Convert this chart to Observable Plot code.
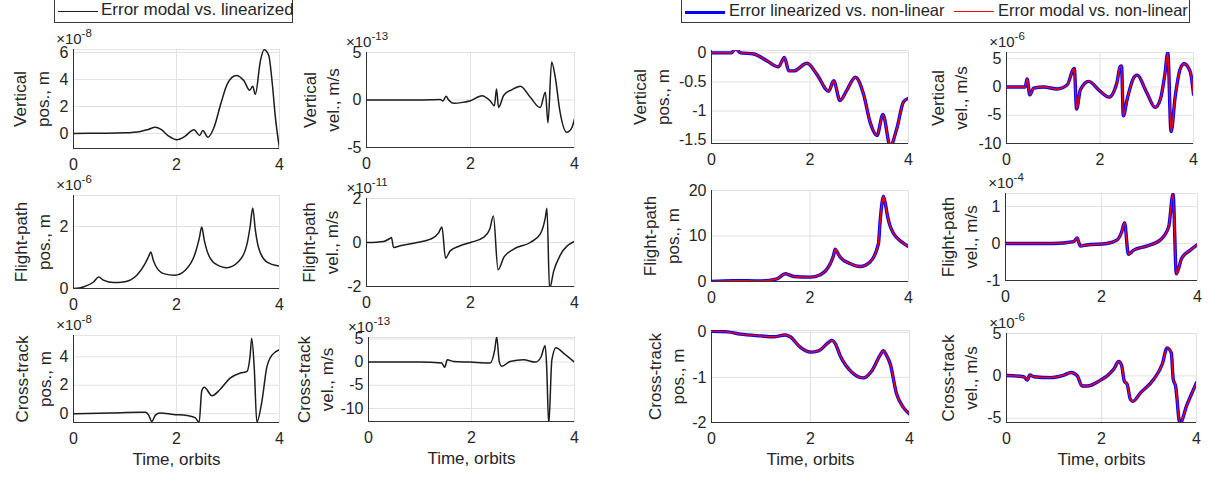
<!DOCTYPE html>
<html>
<head>
<meta charset="utf-8">
<script src="https://cdn.jsdelivr.net/npm/d3@7"></script>
<script src="https://cdn.jsdelivr.net/npm/@observablehq/plot@0.6"></script>
<style>
  html, body { margin: 0; padding: 0; background: #fff; }
  #fig {
    position: relative; width: 1208px; height: 477px; overflow: hidden;
    font-family: "Liberation Sans", Arial, Helvetica, sans-serif; color: #262626;
  }
  .legend {
    position: absolute; box-sizing: border-box; background: #fff;
    border: 1px solid #3a3a3a; color: #262626;
  }
  .legend .swatch { position: absolute; height: 0; }
  .legend .lbl { position: absolute; top: 1px; white-space: nowrap; line-height: 20px; }
</style>
</head>
<body>
<div id="fig"></div>
<script>
// ---- time axis -----------------------------------------------------------
const xTicks = [0, 2, 4];
const timeLabel = "Time, orbits";

// ---- error modal vs. linearized (values in units of the ×10^n factor) ----
// [time in orbits, error]
const vertPosModal = [
  [0,0],[0.5,0.02],[1.0,0.05],[1.3,0.15],[1.45,0.3],[1.59,0.47],[1.7,0.3],[1.85,-0.2],
  [2.01,-0.47],[2.15,-0.25],[2.34,0.27],[2.45,-0.15],[2.51,0.22],[2.61,-0.27],[2.73,0.47],
  [2.86,2.2],[2.99,3.7],[3.16,4.3],[3.31,3.9],[3.42,3.2],[3.48,3.5],[3.53,2.9],[3.63,5.4],
  [3.70,6.2],[3.79,5.8],[3.86,3.7],[3.92,1.2],[4.0,-1.1]
];
const vertVelModal = [
  [0,0],[1.0,0],[1.42,0.05],[1.47,-0.1],[1.53,0.39],[1.58,0.0],[1.68,-0.35],[1.85,-0.25],
  [2.0,-0.07],[2.22,0.46],[2.38,-0.1],[2.46,-0.6],[2.50,1.17],[2.54,-0.78],[2.64,0.5],
  [2.8,1.1],[2.96,1.45],[3.15,0.28],[3.34,-0.8],[3.44,0.82],[3.49,-2.4],[3.56,4.0],
  [3.63,2.4],[3.72,-1.2],[3.85,-3.4],[3.95,-2.9],[4.0,-2.0]
];
const fpPosModal = [
  [0,0],[0.19,0.05],[0.39,0.21],[0.49,0.37],[0.58,0.27],[0.78,0.19],[0.97,0.21],[1.23,0.43],
  [1.39,0.8],[1.46,1.04],[1.5,1.18],[1.55,0.91],[1.59,0.75],[1.75,0.48],[1.97,0.43],
  [2.17,0.59],[2.36,1.12],[2.44,1.6],[2.49,1.98],[2.54,1.55],[2.59,1.23],[2.75,0.8],
  [2.98,0.67],[3.2,0.86],[3.37,1.44],[3.43,2.0],[3.48,2.6],[3.53,1.9],[3.59,1.34],
  [3.75,0.86],[4.0,0.72]
];
const fpVelModal = [
  [0,0],[0.33,0.05],[0.46,0.2],[0.48,0.23],[0.52,-0.23],[0.65,-0.15],[0.97,0],[1.23,0.15],
  [1.39,0.45],[1.45,0.71],[1.52,-0.71],[1.61,-0.38],[1.8,-0.15],[2.0,0],[2.25,0.23],
  [2.37,0.6],[2.44,1.2],[2.53,-1.24],[2.64,-0.68],[2.83,-0.3],[3.15,0],[3.34,0.38],
  [3.44,1.14],[3.47,1.56],[3.52,-2.1],[3.6,-1.3],[3.72,-0.6],[4.0,0.05]
];
const ctPosModal = [
  [0,0],[0.7,0.05],[1.3,0.1],[1.4,0.1],[1.46,-0.1],[1.52,-0.55],[1.59,-0.1],[1.68,0.05],
  [1.94,-0.05],[2.2,-0.12],[2.36,-0.28],[2.44,-0.6],[2.49,1.6],[2.54,1.86],[2.69,1.26],
  [2.85,1.72],[3.04,2.5],[3.24,2.86],[3.37,2.98],[3.43,4.1],[3.46,5.3],[3.51,3.2],
  [3.56,-0.6],[3.66,0.9],[3.75,3.2],[3.85,4.1],[4,4.5]
];
const ctVelModal = [
  [0,0],[1.0,0],[1.42,-0.2],[1.48,-1.1],[1.53,0.5],[1.65,0.15],[1.97,0],[2.36,-0.2],
  [2.45,2.6],[2.49,5.4],[2.54,0],[2.59,-0.9],[2.75,0.15],[3.01,0.5],[3.24,0],[3.35,1.1],
  [3.43,3.6],[3.46,-1.1],[3.5,-13.5],[3.56,0.4],[3.64,3.1],[3.79,1.9],[4,0]
];

// ---- errors against the non-linear solution -------------------------------
// linearized and modal errors coincide to within the line width
const vertPosNonlin = [
  [0,0],[0.4,0],[0.49,0.07],[0.59,0.0],[0.86,-0.02],[1.13,-0.14],[1.36,-0.24],[1.48,-0.08],
  [1.57,-0.31],[1.67,-0.31],[1.94,-0.18],[2.14,-0.37],[2.38,-0.66],[2.48,-0.48],[2.61,-0.82],
  [2.75,-0.64],[2.92,-0.42],[3.09,-0.72],[3.22,-1.19],[3.36,-1.42],[3.48,-1.06],[3.63,-1.6],
  [3.76,-1.31],[3.9,-0.84],[4.0,-0.78]
];
const vertVelNonlin = [
  [0,0],[0.4,0],[0.44,1.4],[0.5,-1.4],[0.58,-0.2],[0.8,0],[1.08,-0.35],[1.3,0.4],[1.42,3.0],
  [1.45,3.3],[1.5,-3.9],[1.58,-0.5],[1.76,1.0],[2.0,-0.75],[2.19,-1.8],[2.36,0.7],[2.43,3.6],
  [2.46,3.7],[2.5,-5.1],[2.58,-2.2],[2.72,1.6],[2.79,2.1],[3.0,-1.0],[3.18,-3.6],[3.29,-2.2],
  [3.39,2.4],[3.45,6.1],[3.52,-7.9],[3.61,-1.6],[3.72,3.3],[3.8,4.1],[3.93,2.7],[4.0,-1.3]
];
const fpPosNonlin = [
  [0,0],[0.45,0.2],[1.0,0.1],[1.33,0.6],[1.5,1.7],[1.67,1.1],[2.0,0.96],[2.21,1.5],[2.41,3.9],
  [2.48,5.8],[2.51,7.1],[2.55,6.5],[2.61,5.4],[2.82,3.9],[3.02,3.3],[3.22,4.3],[3.39,8.3],
  [3.42,12.7],[3.46,17.1],[3.49,18.75],[3.53,17.1],[3.57,14.6],[3.62,12.4],[3.7,10.5],
  [3.86,8.7],[4,7.7]
];
const fpVelNonlin = [
  [0,0],[1.0,0],[1.42,0.05],[1.49,0.15],[1.56,-0.07],[1.69,-0.04],[2.11,0],[2.32,0.09],
  [2.42,0.31],[2.48,0.56],[2.56,-0.29],[2.67,-0.18],[2.94,-0.07],[3.22,0.09],[3.4,0.45],
  [3.49,1.34],[3.56,-0.82],[3.67,-0.4],[3.85,-0.18],[4,-0.03]
];
const ctPosNonlin = [
  [0,0.02],[0.32,0.01],[0.58,-0.04],[0.99,-0.08],[1.26,-0.1],[1.49,-0.06],[1.59,-0.1],
  [1.79,-0.33],[2.0,-0.44],[2.16,-0.41],[2.37,-0.22],[2.43,-0.18],[2.5,-0.25],[2.6,-0.52],
  [2.84,-0.89],[3.07,-1.01],[3.24,-0.85],[3.41,-0.5],[3.47,-0.41],[3.53,-0.5],[3.61,-0.7],
  [3.74,-1.37],[3.88,-1.67],[4,-1.81]
];
const ctVelNonlin = [
  [0,0.05],[0.36,-0.1],[0.44,-0.5],[0.49,0.1],[0.58,-0.1],[0.93,-0.2],[1.21,0.1],[1.36,0.4],
  [1.49,0],[1.59,-1.2],[1.7,-1.2],[1.98,-0.5],[2.12,0],[2.26,0.8],[2.36,1.7],[2.42,1.3],
  [2.48,-0.6],[2.54,-1.0],[2.61,-2.8],[2.66,-3.0],[2.82,-2.0],[3.1,-0.4],[3.28,1.4],
  [3.38,3.3],[3.47,2.7],[3.51,-0.4],[3.56,-1.2],[3.65,-5.6],[3.8,-3.4],[4,-0.8]
];

// ---- legend entries --------------------------------------------------------
const legendModalLin = "Error modal vs. linearized";
const legendLinNonlin = "Error linearized vs. non-linear";
const legendModalNonlin = "Error modal vs. non-linear";

// ---- subplot layout --------------------------------------------------------
// box: [left, right, top, bottom] of the axes area on the page
const panels = [
  {data: vertPosModal, nl: false, box: [73, 279, 49, 148], y: [-1.11, 6.22], ticks: [0, 2, 4, 6], exp: 8, label: ["Vertical", "pos., m"], off: 41.5},
  {data: vertVelModal, nl: false, box: [366, 574, 52, 147], y: [-5, 5], ticks: [-5, 0, 5], exp: 13, label: ["Vertical", "vel., m/s"], off: 44.5},
  {data: vertPosNonlin, nl: true, box: [711, 908, 50, 143], y: [-1.557, 0.04], ticks: [-1.5, -1, -0.5, 0], exp: null, label: ["Vertical", "pos., m"], off: 59},
  {data: vertVelNonlin, nl: true, box: [1006, 1193, 52, 143], y: [-10, 6.1], ticks: [-10, -5, 0, 5], exp: 6, label: ["Vertical", "vel., m/s"], off: 56},

  {data: fpPosModal, nl: false, box: [73, 279, 195, 288], y: [0, 3.0], ticks: [0, 2], exp: 6, label: ["Flight-path", "pos., m"], off: 40},
  {data: fpVelModal, nl: false, box: [366, 574, 198, 286], y: [-2, 2], ticks: [-2, 0, 2], exp: 11, label: ["Flight-path", "vel., m/s"], off: 45},
  {data: fpPosNonlin, nl: true, box: [711, 908, 190, 281], y: [0, 20], ticks: [0, 10, 20], exp: null, label: ["Flight-path", "pos., m"], off: 49.5},
  {data: fpVelNonlin, nl: true, box: [1005, 1197, 193, 280], y: [-1, 1.35], ticks: [-1, 0, 1], exp: 4, label: ["Flight-path", "vel., m/s"], off: 45},

  {data: ctPosModal, nl: false, box: [73, 279, 335, 422], y: [-0.62, 5.5], ticks: [0, 2, 4], exp: 8, label: ["Cross-track", "pos., m"], off: 39.5, time: true},
  {data: ctVelModal, nl: false, box: [368, 574, 337, 421], y: [-12.8, 5.3], ticks: [-10, -5, 0, 5], exp: 13, label: ["Cross-track", "vel., m/s"], off: 52, time: true},
  {data: ctPosNonlin, nl: true, box: [711, 909, 330, 422], y: [-2, 0.04], ticks: [-2, -1, 0], exp: null, label: ["Cross-track", "pos., m"], off: 44.5, time: true},
  {data: ctVelNonlin, nl: true, box: [1006, 1196, 333, 422], y: [-5.5, 5], ticks: [-5, 0, 5], exp: 6, label: ["Cross-track", "vel., m/s"], off: 46, time: true}
];

const fig = document.getElementById("fig");
const FONT = '"Liberation Sans", Arial, Helvetica, sans-serif';
const TEXT = "#262626";
const GRID = "#e2e2e2";
const AXIS = "#333333";
const mL = 80, mR = 14, mT = 30, mB = 56;
const LINE_GAP = 23;   // distance between the two y-label lines
const fmt = d => String(d);
const xy = {x: d => d[0], y: d => d[1], curve: "monotone-x", clip: true};

for (const p of panels) {
  const [left, right, top, bottom] = p.box;
  const w = right - left, h = bottom - top;
  const marks = [
    Plot.gridY(p.ticks, {stroke: GRID, strokeOpacity: 1}),
    Plot.gridX(xTicks, {stroke: GRID, strokeOpacity: 1}),
    Plot.frame({stroke: GRID}),
    Plot.ruleX([0], {stroke: AXIS, strokeWidth: 1}),
    Plot.ruleY([p.y[0]], {stroke: AXIS, strokeWidth: 1}),
    Plot.axisY({ticks: p.ticks, tickSize: 0, tickPadding: 5, tickFormat: fmt, fontSize: 16, label: null}),
    Plot.axisX({ticks: xTicks, tickSize: 0, tickPadding: 10, tickFormat: fmt, fontSize: 16, label: null})
  ];
  // two-line y label, each line rotated and centred on the axis
  p.label.forEach((line, i) => {
    marks.push(Plot.text([line], {
      text: d => d, frameAnchor: "left", textAnchor: "middle", lineAnchor: "middle",
      dx: -p.off + (i - 0.5) * LINE_GAP, rotate: -90, fontSize: 17, fill: TEXT
    }));
  });
  if (p.nl) {
    marks.push(Plot.line(p.data, {...xy, stroke: "#0000ff", strokeWidth: 3.4}));
    marks.push(Plot.line(p.data, {...xy, stroke: "#ff0000", strokeWidth: 1.4}));
  } else {
    marks.push(Plot.line(p.data, {...xy, stroke: "#1c1c1c", strokeWidth: 1.5}));
  }
  if (p.time) {
    marks.push(Plot.text([timeLabel], {text: d => d, frameAnchor: "bottom", dy: 42, fontSize: 17, fill: TEXT}));
  }
  const svg = Plot.plot({
    width: w + mL + mR,
    height: h + mT + mB,
    marginLeft: mL, marginRight: mR, marginTop: mT, marginBottom: mB,
    x: {domain: [0, 4]},
    y: {domain: p.y},
    style: {
      position: "absolute", left: (left - mL) + "px", top: (top - mT) + "px",
      background: "transparent", overflow: "visible", maxWidth: "none",
      fontFamily: FONT, color: TEXT
    },
    marks
  });
  if (p.exp !== null) {
    // ×10^n scale factor above the y axis
    const t = d3.select(svg).append("text")
      .attr("x", mL + 1).attr("y", mT - 5)
      .attr("font-size", 15).attr("fill", TEXT).attr("font-family", FONT);
    t.append("tspan").text("×10");
    t.append("tspan").attr("dy", -7).attr("font-size", 11.5).text("-" + p.exp);
  }
  fig.appendChild(svg);
}

// ---- legends -----------------------------------------------------------------
function legend(left, width, fontSize, items) {
  const box = document.createElement("div");
  box.className = "legend";
  Object.assign(box.style, {left: left + "px", top: "-2px", width: width + "px", height: "25px",
                            fontSize: fontSize + "px"});
  for (const it of items) {
    const sw = document.createElement("div");
    sw.className = "swatch";
    Object.assign(sw.style, {left: it.sx + "px", width: "40px", top: (13 - it.sw / 2) + "px",
                             borderTop: it.sw + "px solid " + it.color});
    const lb = document.createElement("div");
    lb.className = "lbl";
    lb.style.left = it.tx + "px";
    lb.textContent = it.text;
    box.appendChild(sw);
    box.appendChild(lb);
  }
  fig.appendChild(box);
}
legend(54, 239, 17, [{sx: 3, tx: 46, sw: 1.5, color: "#1c1c1c", text: legendModalLin}]);
legend(681, 509, 16.5, [
  {sx: 3, tx: 47, sw: 3, color: "#0000ff", text: legendLinNonlin},
  {sx: 272, tx: 316, sw: 1.5, color: "#ff0000", text: legendModalNonlin}
]);
</script>
</body>
</html>
